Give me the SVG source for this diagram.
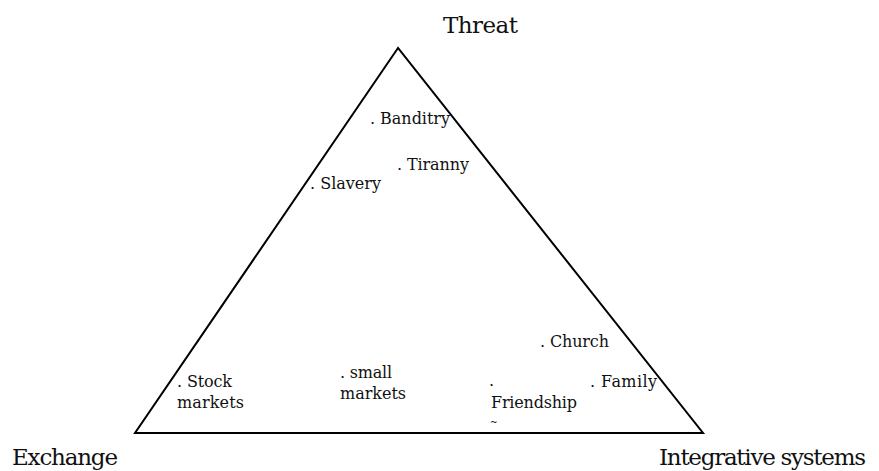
<svg xmlns="http://www.w3.org/2000/svg" width="879" height="471" viewBox="0 0 879 471">
<style>
text{font-family:"DejaVu Serif","Liberation Serif",serif;fill:#111}
.big{font-size:23px}
.sm{font-size:16px}
.edge{fill:none;stroke:#000;stroke-width:2;stroke-linejoin:miter}
</style>
<rect width="879" height="471" fill="#fff"/>
<g id="connectors">
<polygon class="edge" points="398,48 135,433 703,433"/>
</g>
<g id="threat"><text class="big" x="443" y="33" textLength="75">Threat</text></g>
<g id="exchange"><text class="big" x="12" y="465" textLength="106">Exchange</text></g>
<g id="integrative"><text class="big" x="659" y="465" textLength="207">Integrative systems</text></g>
<g id="banditry"><text class="sm" x="370" y="124" textLength="80">. Banditry</text></g>
<g id="tiranny"><text class="sm" x="397" y="170" textLength="72">. Tiranny</text></g>
<g id="slavery"><text class="sm" x="310" y="189" textLength="71">. Slavery</text></g>
<g id="church"><text class="sm" x="540" y="347" textLength="69">. Church</text></g>
<g id="family"><text class="sm" x="590" y="387" textLength="67">. Family</text></g>
<g id="stock"><text class="sm" x="177" y="387" textLength="55">. Stock</text><text class="sm" x="177" y="408" textLength="67">markets</text></g>
<g id="small"><text class="sm" x="340" y="378" textLength="52">. small</text><text class="sm" x="340" y="399" textLength="66">markets</text></g>
<g id="friendship"><text class="sm" x="489" y="386">.</text><text class="sm" x="491" y="408" textLength="86">Friendship</text><text x="490" y="425" style="font-size:9px">~</text></g>
</svg>
